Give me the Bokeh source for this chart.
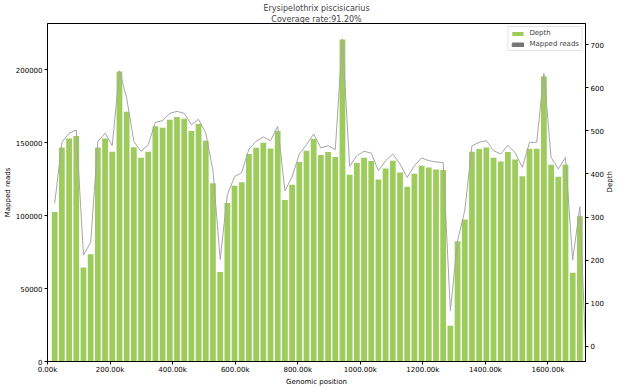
import math
from bokeh.plotting import figure
from bokeh.models import (Range1d, LinearAxis, FixedTicker, Legend, LegendItem,
                          Title, ColumnDataSource)
from bokeh.embed import file_html
from bokeh.resources import INLINE

# ---------------- data ----------------
title_lines = ["Erysipelothrix piscisicarius", "Coverage rate:91.20%"]
bin_size = 23000
genome_length = 1720000

mapped_reads = [102500, 146700, 152900, 154500, 64500, 73500, 146700, 152900, 143700, 198700,
                171200, 146900, 139600, 143700, 161200, 160200, 165700, 167600, 166400, 158000,
                162800, 151300, 122200, 61300, 108700, 120400, 122900, 142200, 146500, 149900,
                146000, 158000, 110600, 121100, 136700, 144400, 152500, 141500, 143500, 140100,
                220600, 128000, 136000, 139600, 137400, 124700, 132300, 137600, 129600, 119700,
                128600, 134100, 133000, 131600, 131200, 24500, 82400, 97300, 143700, 145600,
                146700, 139600, 137100, 143500, 138500, 127000, 145800, 145800, 195500, 134800,
                126600, 134800, 60900, 99600]

depth = [331.6, 473.5, 495, 502, 211.6, 241, 475.8, 495, 465.8, 640,
         576.7, 475.8, 452.6, 468, 520, 524, 541, 545.6, 541, 514.7,
         527, 495, 407.7, 201.4, 351.9, 393.7, 403.7, 458, 475.8, 486,
         477.4, 510.7, 361, 393.7, 446.5, 468, 493, 460.5, 465.8, 456.5,
         714, 417.7, 442.6, 452.6, 448.8, 407.7, 431, 446.5, 423.3, 392,
         419.3, 437.2, 431, 428, 426.3, 82.1, 244.9, 314.7, 465.8, 473.5,
         477.4, 454.2, 446.5, 466.5, 449.5, 415.3, 473.5, 473.5, 634, 438.6,
         411.6, 438.6, 200, 324, 0]

bin_positions = [bin_size * (i + 1) for i in range(len(mapped_reads))]
depth_positions = bin_positions + [genome_length]

x_ticks = [0, 200000, 400000, 600000, 800000, 1000000, 1200000, 1400000, 1600000]
x_tick_labels = ["0.00k", "200.00k", "400.00k", "600.00k", "800.00k",
                 "1000.00k", "1200.00k", "1400.00k", "1600.00k"]
left_ticks = [0, 50000, 100000, 150000, 200000]
left_tick_labels = ["0", "50000", "100000", "150000", "200000"]
right_ticks = [0, 100, 200, 300, 400, 500, 600, 700]
right_tick_labels = ["0", "100", "200", "300", "400", "500", "600", "700"]

# ---------------- style ----------------
FONT = "DejaVu Sans"
GREEN = "#9dcb5c"
LINE_GRAY = "#a6a6a6"
PATCH_GRAY = "#767676"
FS = "7px"

reads_end = max(mapped_reads) * 1.05
d_span = max(depth) - min(depth)
depth_start = min(depth) - 0.05 * d_span
depth_end = max(depth) + 0.05 * d_span

p = figure(width=620, height=388, output_backend="svg", toolbar_location=None,
           title=None, x_range=Range1d(0, genome_length),
           y_range=Range1d(0, reads_end),
           min_border_left=45, min_border_right=35, min_border_top=23,
           min_border_bottom=27)
p.extra_y_ranges = {"depth": Range1d(depth_start, depth_end)}

p.xgrid.visible = False
p.ygrid.visible = False
p.outline_line_color = "black"
p.outline_line_width = 1
p.background_fill_color = "white"
p.border_fill_color = "white"

src = ColumnDataSource(dict(x=bin_positions, top=mapped_reads))
bars = p.vbar(x="x", top="top", bottom=0, width=bin_size * 0.8, source=src,
              fill_color=GREEN, line_color=None)

line_src = ColumnDataSource(dict(x=depth_positions, y=depth))
p.line(x="x", y="y", source=line_src, y_range_name="depth",
       line_color=LINE_GRAY, line_width=1)

# legend-only patch for "Mapped reads" (hidden renderer, legend glyph still drawn)
legend_patch = p.vbar(x="x", top="top", bottom=0, width=bin_size * 0.8, source=src,
                      fill_color=PATCH_GRAY, line_color=PATCH_GRAY)
legend_patch.visible = False


def style_axis(ax, label_standoff, tick_label_standoff=2):
    ax.axis_line_color = "black"
    ax.major_tick_line_color = "black"
    ax.major_tick_out = 3
    ax.major_tick_in = 0
    ax.minor_tick_out = 0
    ax.minor_tick_in = 0
    ax.major_label_standoff = tick_label_standoff
    ax.axis_label_standoff = label_standoff
    ax.major_label_text_font = FONT
    ax.major_label_text_font_size = FS
    ax.major_label_text_color = "black"
    ax.axis_label_text_font = FONT
    ax.axis_label_text_font_size = FS
    ax.axis_label_text_font_style = "normal"
    ax.axis_label_text_color = "black"


xa = p.xaxis[0]
xa.ticker = FixedTicker(ticks=x_ticks)
xa.major_label_overrides = dict(zip(x_ticks, x_tick_labels))
xa.axis_label = "Genomic position"
style_axis(xa, 1, 1)

ya = p.yaxis[0]
ya.ticker = FixedTicker(ticks=left_ticks)
ya.major_label_overrides = dict(zip(left_ticks, left_tick_labels))
ya.axis_label = "Mapped reads"
style_axis(ya, 1, 2)

ra = LinearAxis(y_range_name="depth", axis_label="Depth",
                ticker=FixedTicker(ticks=right_ticks))
ra.major_label_overrides = dict(zip(right_ticks, right_tick_labels))
style_axis(ra, 3, 2)
try:
    ra.axis_label_orientation = math.pi / 2
except Exception:
    pass
p.add_layout(ra, "right")

legend = Legend(items=[LegendItem(label="Depth", renderers=[bars]),
                       LegendItem(label="Mapped reads", renderers=[legend_patch])],
                location="top_right", margin=3, padding=2, spacing=3,
                glyph_width=14, glyph_height=5, label_height=7,
                label_standoff=5, label_text_font=FONT, label_text_font_size=FS,
                border_line_color="#cccccc", border_line_width=1,
                background_fill_alpha=0.85, inactive_fill_alpha=0.0,
                click_policy="none")
p.add_layout(legend)

t2 = Title(text=title_lines[1], align="center", text_font=FONT,
           text_font_size="8px", text_font_style="normal", standoff=0, offset=0)
t1 = Title(text=title_lines[0], align="center", text_font=FONT,
           text_font_size="8px", text_font_style="normal", standoff=0, offset=0)
p.add_layout(t2, "above")
p.add_layout(t1, "above")

open("out.html", "w").write(file_html(p, INLINE))
